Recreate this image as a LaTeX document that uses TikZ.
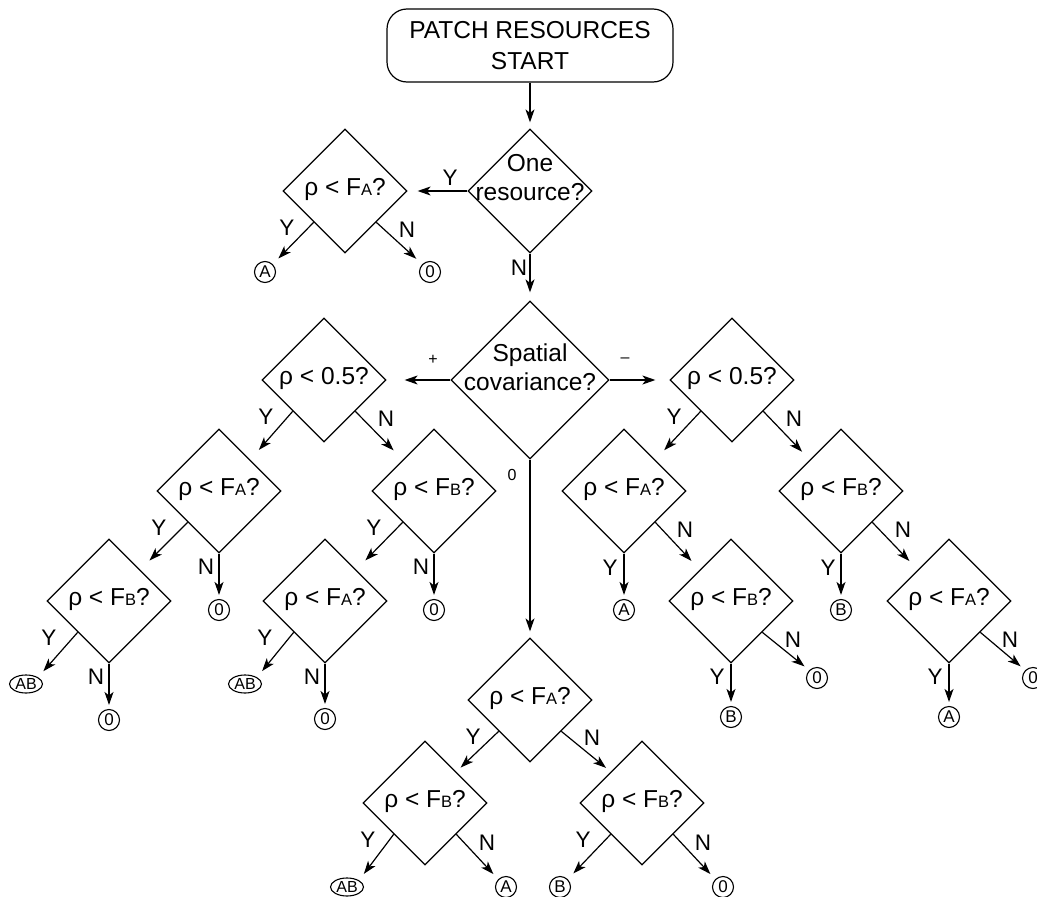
\documentclass[tikz,border=0pt]{standalone}
\usepackage{fontspec}
\setmainfont{Liberation Sans}
\usetikzlibrary{shapes.geometric,arrows.meta,calc}
\newcommand\smA{{\fontsize{16.5}{16.5}\selectfont A}}
\newcommand\smB{{\fontsize{16.5}{16.5}\selectfont B}}
\begin{document}
\begin{tikzpicture}[x=1pt,y=-1pt,
  line width=1.2pt,
  every node/.style={font=\fontsize{24.5}{29}\selectfont},
  startbox/.style={draw, rounded corners=20pt, minimum width=286pt, minimum height=73pt, align=center, inner sep=0pt, font=\fontsize{24.5}{31}\selectfont},
  dia/.style={draw, diamond, minimum width=124pt, minimum height=124pt, inner sep=0pt},
  bigdia/.style={dia, minimum width=158pt, minimum height=158pt},
  qtxt/.style={align=center, inner sep=0pt},
  q1/.style={inner sep=0pt, anchor=base},
  yn/.style={font=\fontsize{22.5}{22.5}\selectfont, inner sep=0pt},
  sm/.style={font=\fontsize{16}{16}\selectfont, inner sep=0pt},
  term/.style={draw, circle, minimum size=21pt, inner sep=0pt, line width=1.1pt, font=\fontsize{17}{17}\selectfont},
  termab/.style={draw, ellipse, minimum width=33pt, minimum height=18pt, inner sep=0pt, line width=1.1pt, font=\fontsize{16}{16}\selectfont},
  arr/.style={-{Stealth[length=13pt,width=9pt,inset=3.5pt]}},
]
\useasboundingbox (0,0) rectangle (1037,897);

% decision nodes
\node[startbox] (s) at (530,45.5) {PATCH RESOURCES\\START};
\node[dia] (d1) at (530,191) {};
\node[dia] (d2) at (345,191) {};
\node[bigdia] (d3) at (530,380) {};
\node[dia] (d4) at (324,380) {};
\node[dia] (d5) at (732,380) {};
\node[dia] (d6) at (219,491) {};
\node[dia] (d7) at (434,491) {};
\node[dia] (d8) at (109,601) {};
\node[dia] (d9) at (325,601) {};
\node[dia] (d10) at (624,491) {};
\node[dia] (d11) at (841,491) {};
\node[dia] (d12) at (731,601) {};
\node[dia] (d13) at (949,601) {};
\node[dia] (d14) at (530,700) {};
\node[dia] (d15) at (425,803) {};
\node[dia] (d16) at (642,803) {};

% texts in the diamonds
\node[qtxt] (t1) at ($(d1)+(0,-13)$) {One\\resource?};
\node[q1] (t2) at ($(d2)+(0,4)$) {ρ < F\smA?};
\node[qtxt] (t3) at ($(d3)+(0,-13)$) {Spatial\\covariance?};
\node[q1] (t4) at ($(d4)+(0,4)$) {ρ < 0.5?};
\node[q1] (t5) at ($(d5)+(0,4)$) {ρ < 0.5?};
\node[q1] (t6) at ($(d6)+(0,4)$) {ρ < F\smA?};
\node[q1] (t7) at ($(d7)+(0,4)$) {ρ < F\smB?};
\node[q1] (t8) at ($(d8)+(0,4)$) {ρ < F\smB?};
\node[q1] (t9) at ($(d9)+(0,4)$) {ρ < F\smA?};
\node[q1] (t10) at ($(d10)+(0,4)$) {ρ < F\smA?};
\node[q1] (t11) at ($(d11)+(0,4)$) {ρ < F\smB?};
\node[q1] (t12) at ($(d12)+(0,4)$) {ρ < F\smB?};
\node[q1] (t13) at ($(d13)+(0,4)$) {ρ < F\smA?};
\node[q1] (t14) at ($(d14)+(0,4)$) {ρ < F\smA?};
\node[q1] (t15) at ($(d15)+(0,4)$) {ρ < F\smB?};
\node[q1] (t16) at ($(d16)+(0,4)$) {ρ < F\smB?};

% terminals
\node[term] (e2a) at ($(d2)+(-80,81)$) {A};
\node[term] (e2b) at ($(d2)+(85,81)$) {0};
\node[term] (e6b) at ($(d6)+(0,119)$) {0};
\node[term] (e7b) at ($(d7)+(0,119)$) {0};
\node[termab] (e8a) at ($(d8)+(-83,83)$) {AB};
\node[term] (e8b) at ($(d8)+(0,119)$) {0};
\node[termab] (e9a) at ($(d9)+(-80,83)$) {AB};
\node[term] (e9b) at ($(d9)+(0,118)$) {0};
\node[term] (e10a) at ($(d10)+(0,119)$) {A};
\node[term] (e11a) at ($(d11)+(0,119)$) {B};
\node[term] (e12a) at ($(d12)+(0,116)$) {B};
\node[term] (e12b) at ($(d12)+(86,77)$) {0};
\node[term] (e13a) at ($(d13)+(0,116)$) {A};
\node[term] (e13b) at ($(d13)+(84,77)$) {0};
\node[termab] (e15a) at ($(d15)+(-78,84)$) {AB};
\node[term] (e15b) at ($(d15)+(81,84)$) {A};
\node[term] (e16a) at ($(d16)+(-82,84)$) {B};
\node[term] (e16b) at ($(d16)+(81,84)$) {0};

% connectors
\draw[arr, shorten >=6pt] (s) -- (d1);
\draw[arr, shorten >=10pt] (d1) -- (d2);
\draw[arr, shorten >=8pt] (d1) -- (d3);
\draw[arr, shorten >=8pt] ($(d2.west)!.5!(d2.south)$) -- (e2a.north east);
\draw[arr, shorten >=8pt] ($(d2.east)!.5!(d2.south)$) -- (e2b.north west);
\draw[arr, shorten >=18pt] (d3) -- (d4);
\draw[arr, shorten >=14pt] (d3) -- (d5);
\draw[arr, shorten >=6pt] (d3) -- (d14);
\draw[arr, shorten >=13pt] ($(d4.west)!.5!(d4.south)$) -- ($(d6.north)!.5!(d6.east)$);
\draw[arr, shorten >=13pt] ($(d4.east)!.5!(d4.south)$) -- ($(d7.north)!.5!(d7.west)$);
\draw[arr, shorten >=13pt] ($(d6.west)!.5!(d6.south)$) -- ($(d8.north)!.5!(d8.east)$);
\draw[arr, shorten >=4pt] (d6) -- (e6b);
\draw[arr, shorten >=13pt] ($(d7.west)!.5!(d7.south)$) -- ($(d9.north)!.5!(d9.east)$);
\draw[arr, shorten >=4pt] (d7) -- (e7b);
\draw[arr, shorten >=8pt] ($(d8.west)!.5!(d8.south)$) -- (e8a.north east);
\draw[arr, shorten >=4pt] (d8) -- (e8b);
\draw[arr, shorten >=8pt] ($(d9.west)!.5!(d9.south)$) -- (e9a.north east);
\draw[arr, shorten >=4pt] (d9) -- (e9b);
\draw[arr, shorten >=13pt] ($(d5.west)!.5!(d5.south)$) -- ($(d10.north)!.5!(d10.east)$);
\draw[arr, shorten >=11pt] ($(d5.east)!.5!(d5.south)$) -- ($(d11.north)!.5!(d11.west)$);
\draw[arr, shorten >=4pt] (d10) -- (e10a);
\draw[arr, shorten >=12pt] ($(d10.east)!.5!(d10.south)$) -- ($(d12.north)!.5!(d12.west)$);
\draw[arr, shorten >=4pt] (d11) -- (e11a);
\draw[arr, shorten >=12pt] ($(d11.east)!.5!(d11.south)$) -- ($(d13.north)!.5!(d13.west)$);
\draw[arr, shorten >=4pt] (d12) -- (e12a);
\draw[arr, shorten >=6pt] ($(d12.east)!.5!(d12.south)$) -- (e12b.north west);
\draw[arr, shorten >=4pt] (d13) -- (e13a);
\draw[arr, shorten >=6pt] ($(d13.east)!.5!(d13.south)$) -- (e13b.north west);
\draw[arr, shorten >=6pt] ($(d14.west)!.5!(d14.south)$) -- ($(d15.north)!.5!(d15.east)$);
\draw[arr, shorten >=6pt] ($(d14.east)!.5!(d14.south)$) -- ($(d16.north)!.5!(d16.west)$);
\draw[arr, shorten >=8pt] ($(d15.west)!.5!(d15.south)$) -- (e15a.north east);
\draw[arr, shorten >=7pt] ($(d15.east)!.5!(d15.south)$) -- (e15b.north west);
\draw[arr, shorten >=8pt] ($(d16.west)!.5!(d16.south)$) -- (e16a.north east);
\draw[arr, shorten >=7pt] ($(d16.east)!.5!(d16.south)$) -- (e16b.north west);

% branch labels
\node[yn] (y1) at ($(d1)+(-80,-13)$) {Y};
\node[yn] (n1) at ($(d1)+(-11,77)$) {N};
\node[yn] (y2) at ($(d2)+(-58,37)$) {Y};
\node[yn] (n2) at ($(d2)+(62,39)$) {N};
\node[sm] (p3) at ($(d3)+(-97,-20)$) {+};
\node[sm] (m3) at ($(d3)+(95,-20)$) {–};
\node[sm] (z3) at ($(d3)+(-18,95)$) {0};
\node[yn] (y4) at ($(d4)+(-58,37)$) {Y};
\node[yn] (n4) at ($(d4)+(62,39)$) {N};
\node[yn] (y5) at ($(d5)+(-58,37)$) {Y};
\node[yn] (n5) at ($(d5)+(62,39)$) {N};
\node[yn] (y6) at ($(d6)+(-60,37)$) {Y};
\node[yn] (n6) at ($(d6)+(-13,76)$) {N};
\node[yn] (y7) at ($(d7)+(-60,37)$) {Y};
\node[yn] (n7) at ($(d7)+(-13,76)$) {N};
\node[yn] (y8) at ($(d8)+(-60,37)$) {Y};
\node[yn] (n8) at ($(d8)+(-13,76)$) {N};
\node[yn] (y9) at ($(d9)+(-60,37)$) {Y};
\node[yn] (n9) at ($(d9)+(-13,76)$) {N};
\node[yn] (y10) at ($(d10)+(-14,77)$) {Y};
\node[yn] (n10) at ($(d10)+(61,39)$) {N};
\node[yn] (y11) at ($(d11)+(-13,77)$) {Y};
\node[yn] (n11) at ($(d11)+(62,39)$) {N};
\node[yn] (y12) at ($(d12)+(-14,76)$) {Y};
\node[yn] (n12) at ($(d12)+(62,39)$) {N};
\node[yn] (y13) at ($(d13)+(-14,76)$) {Y};
\node[yn] (n13) at ($(d13)+(61,39)$) {N};
\node[yn] (y14) at ($(d14)+(-57,37)$) {Y};
\node[yn] (n14) at ($(d14)+(62,38)$) {N};
\node[yn] (y15) at ($(d15)+(-57,37)$) {Y};
\node[yn] (n15) at ($(d15)+(62,40)$) {N};
\node[yn] (y16) at ($(d16)+(-59,37)$) {Y};
\node[yn] (n16) at ($(d16)+(61,40)$) {N};
\end{tikzpicture}
\end{document}
